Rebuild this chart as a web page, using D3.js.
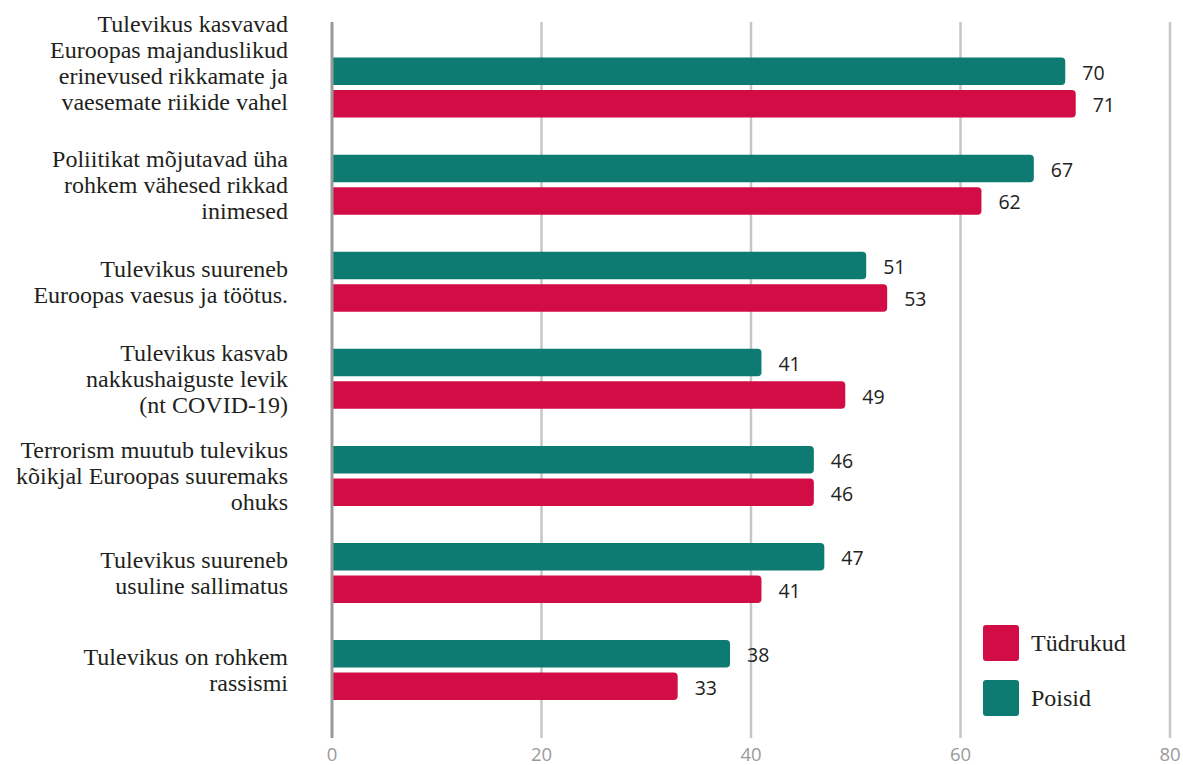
<!DOCTYPE html>
<html>
<head>
<meta charset="utf-8">
<script src="https://cdn.jsdelivr.net/npm/d3@7"></script>
<style>
  html, body { margin: 0; padding: 0; background: #fff; }
  svg { display: block; }
</style>
</head>
<body>
<svg id="chart" width="1183" height="765"></svg>
<script>
// Statements (each entry is a list of label lines)
const categories = [
  ["Tulevikus kasvavad", "Euroopas majanduslikud", "erinevused rikkamate ja", "vaesemate riikide vahel"],
  ["Poliitikat mõjutavad üha", "rohkem vähesed rikkad", "inimesed"],
  ["Tulevikus suureneb", "Euroopas vaesus ja töötus."],
  ["Tulevikus kasvab", "nakkushaiguste levik", "(nt COVID-19)"],
  ["Terrorism muutub tulevikus", "kõikjal Euroopas suuremaks", "ohuks"],
  ["Tulevikus suureneb", "usuline sallimatus"],
  ["Tulevikus on rohkem", "rassismi"]
];
const poisid   = [70, 67, 51, 41, 46, 47, 38];
const tudrukud = [71, 62, 53, 49, 46, 41, 33];
const seriesNames = ["Poisid", "Tüdrukud"];
const xTicks = [0, 20, 40, 60, 80];

const colors = { "Poisid": "#0e7b72", "Tüdrukud": "#d20d45" };

const svg = d3.select("#chart");
const x0 = 332, x1 = 1170, yTop = 22, yBottom = 738;

const x = d3.scaleLinear().domain([0, 80]).range([x0, x1]);
const y = d3.scaleBand().domain(d3.range(categories.length)).range([39, 718.6]);

const barH = 27.5, gap = 5, r = 4;
const sansFont = "'Open Sans', 'Noto Sans', sans-serif";
const serifFont = "'Liberation Serif', 'DejaVu Serif', serif";

// Gridlines
svg.append("g").selectAll("line")
  .data(xTicks.filter(t => t !== 0))
  .join("line")
  .attr("x1", d => x(d)).attr("x2", d => x(d))
  .attr("y1", yTop).attr("y2", yBottom)
  .attr("stroke", "#c6c6c6").attr("stroke-width", 2.5);

// Tick labels
svg.append("g").selectAll("text")
  .data(xTicks)
  .join("text")
  .attr("x", d => x(d)).attr("y", 761)
  .attr("text-anchor", "middle")
  .attr("font-family", sansFont)
  .attr("font-size", 18.5)
  .attr("fill", "#9a9a9a")
  .text(d => d);

// Bar with square left end and rounded right end
function barPath(xs, xe, yt, h) {
  const rr = Math.min(r, (xe - xs) / 2, h / 2);
  return `M${xs},${yt}H${xe - rr}A${rr},${rr} 0 0 1 ${xe},${yt + rr}` +
         `V${yt + h - rr}A${rr},${rr} 0 0 1 ${xe - rr},${yt + h}H${xs}Z`;
}

const rows = categories.map((c, i) => ({ i, lines: c, values: [poisid[i], tudrukud[i]] }));

const groups = svg.append("g").selectAll("g")
  .data(rows)
  .join("g");

groups.each(function (d) {
  const g = d3.select(this);
  const cy = y(d.i) + y.bandwidth() / 2;
  d.values.forEach((v, k) => {
    const name = seriesNames[k];
    const yt = k === 0 ? cy - gap / 2 - barH : cy + gap / 2;
    g.append("path")
      .attr("d", barPath(x(0), x(v), yt, barH))
      .attr("fill", colors[name]);
    g.append("text")
      .attr("x", x(v) + 17)
      .attr("y", yt + barH / 2 + 1.5)
      .attr("dy", "0.36em")
      .attr("font-family", sansFont)
      .attr("font-size", 19.5)
      .attr("fill", "#222")
      .text(v);
  });

  // Category label, right aligned: centered on the group, or hung from the
  // top of the band when the block is taller than the band
  const lh = 26;
  const n = d.lines.length;
  const first = n * lh > y.bandwidth()
    ? y(d.i) - 15
    : cy - (n - 1) * lh / 2;
  const t = g.append("text")
    .attr("text-anchor", "end")
    .attr("font-family", serifFont)
    .attr("font-size", 24)
    .attr("fill", "#231f20");
  d.lines.forEach((line, j) => {
    t.append("tspan")
      .attr("x", 288)
      .attr("y", first + j * lh)
      .attr("dy", "0.35em")
      .text(line);
  });
});

// Zero axis line
svg.append("line")
  .attr("x1", x(0)).attr("x2", x(0))
  .attr("y1", yTop).attr("y2", yBottom)
  .attr("stroke", "#999").attr("stroke-width", 3);

// Legend
const legendItems = ["Tüdrukud", "Poisid"];
const legend = svg.append("g").selectAll("g")
  .data(legendItems)
  .join("g")
  .attr("transform", (d, i) => `translate(983, ${625 + i * 55})`);
legend.append("rect")
  .attr("width", 36).attr("height", 36).attr("rx", 3)
  .attr("fill", d => colors[d]);
legend.append("text")
  .attr("x", 48).attr("y", 18).attr("dy", "0.35em")
  .attr("font-family", serifFont)
  .attr("font-size", 24)
  .attr("fill", "#231f20")
  .text(d => d);
</script>
</body>
</html>
